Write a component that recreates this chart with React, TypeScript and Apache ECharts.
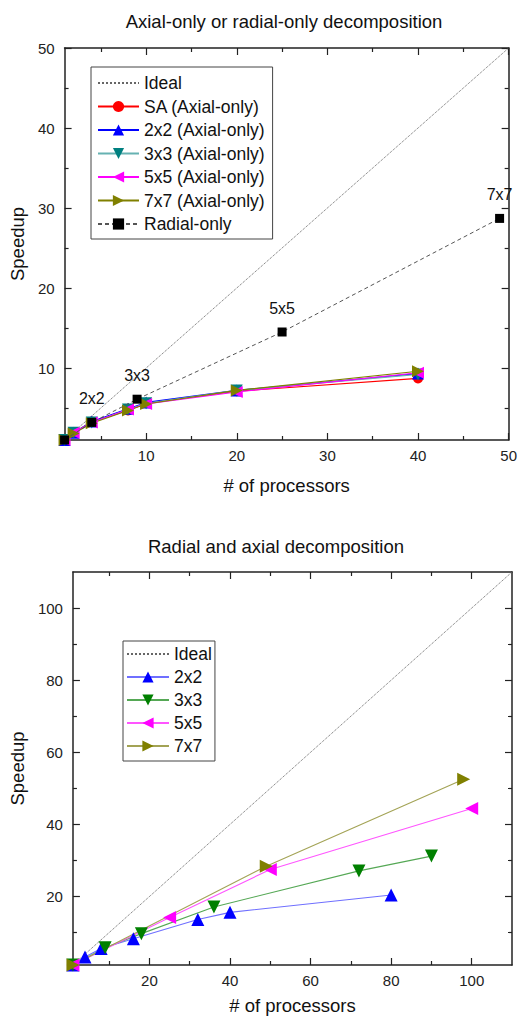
import React, { useEffect, useRef } from "react";
import * as echarts from "echarts";

const FONT = "'Liberation Sans', Arial, Helvetica, sans-serif";

// ---- texts ----
const topTitle = "Axial-only or radial-only decomposition";
const bottomTitle = "Radial and axial decomposition";
const xName = "# of processors";
const yName = "Speedup";

// ---- top chart data ----
const topIdealX = [1, 50];
const axialProcs = [1, 2, 4, 8, 10, 20, 40];
const saAxial = [1, 1.9, 3.3, 4.7, 5.6, 7.1, 8.7];
const axial2x2 = [1, 1.9, 3.3, 4.9, 5.7, 7.2, 9.3];
const axial3x3 = [1, 1.9, 3.2, 4.8, 5.6, 7.2, 9.2];
const axial5x5 = [1, 1.9, 3.2, 4.8, 5.5, 7.0, 9.4];
const axial7x7 = [1, 1.8, 3.1, 4.7, 5.5, 7.2, 9.6];
const radialProcs = [1, 4, 9, 25, 49];
const radialSpeedup = [1, 3.2, 6.1, 14.5, 28.7];
const radialLabels = ["", "2x2", "3x3", "5x5", "7x7"];

// ---- bottom chart data ----
const bottomIdealX = [1, 110];
const procs2x2 = [1, 4, 8, 16, 32, 40, 80];
const speed2x2 = [1, 3.2, 5.6, 8.3, 13.6, 15.6, 20.4];
const procs3x3 = [1, 9, 18, 36, 72, 90];
const speed3x3 = [1, 5.8, 9.7, 17.1, 27.1, 31.2];
const procs5x5 = [1, 25, 50, 100];
const speed5x5 = [1, 14.2, 27.5, 44.4];
const procs7x7 = [1, 49, 98];
const speed7x7 = [1, 28.4, 52.5];

// ---- ticks ----
const topMajor = [10, 20, 30, 40, 50];
const topMinor = [5, 15, 25, 35, 45];
const topLabels = [10, 20, 30, 40, 50];
const bottomMajor = [20, 40, 60, 80, 100];
const bottomMinor = [10, 30, 50, 70, 90];
const bottomLabels = [20, 40, 60, 80, 100];

const zip = (xs: number[], ys: number[]) => xs.map((x, i) => [x, ys[i]]);

function makeAxes(
  dim: "x" | "y",
  gridIndex: number,
  min: number,
  max: number,
  major: number[],
  minor: number[],
  labels: number[],
  nameGap: number
) {
  const pos = dim === "x" ? ["bottom", "top"] : ["left", "right"];
  const lineStyle = { color: "#222", width: 1.5 };
  const tickStyle = { color: "#222", width: 1.2 };
  const base: any = {
    type: "value",
    gridIndex,
    min,
    max,
    splitLine: { show: false },
    axisLine: { show: false, onZero: false },
    axisLabel: { show: false },
    axisTick: { show: false },
  };
  return [
    {
      ...base,
      position: pos[0],
      name: dim === "x" ? xName : yName,
      nameLocation: "middle",
      nameGap,
      nameTextStyle: { fontSize: 18.5, color: "#111", fontFamily: FONT },
      axisLine: { show: true, onZero: false, lineStyle },
      axisTick: { show: true, inside: true, length: 7, customValues: major, lineStyle: tickStyle },
      axisLabel: {
        show: true,
        customValues: labels,
        margin: dim === "x" ? 8 : 10,
        fontSize: 15,
        color: "#222",
        fontFamily: FONT,
      },
    },
    {
      ...base,
      position: pos[1],
      axisLine: { show: true, onZero: false, lineStyle },
      axisTick: { show: true, inside: true, length: 7, customValues: major, lineStyle: tickStyle },
    },
    {
      ...base,
      position: pos[0],
      axisTick: { show: true, inside: true, length: 4, customValues: minor, lineStyle: tickStyle },
    },
    {
      ...base,
      position: pos[1],
      axisTick: { show: true, inside: true, length: 4, customValues: minor, lineStyle: tickStyle },
    },
  ];
}

function lineSeries(
  name: string,
  data: number[][],
  color: string,
  symbol: string,
  rotate: number,
  size: number,
  axisIndex: number,
  lineColor?: string
) {
  return {
    type: "line",
    name,
    data,
    xAxisIndex: axisIndex,
    yAxisIndex: axisIndex,
    symbol,
    symbolSize: size,
    symbolRotate: rotate,
    showAllSymbol: true,
    itemStyle: { color },
    lineStyle: { color: lineColor || color, width: 1.1 },
    emphasis: { disabled: true },
    z: 3,
  };
}

const idealLegendItem = { name: "Ideal", itemStyle: { opacity: 0 } };

export default function App() {
  const ref = useRef<HTMLDivElement>(null);

  useEffect(() => {
    if (!ref.current) return;
    const chart = echarts.init(ref.current, undefined, { renderer: "svg" });

    const option: any = {
      animation: false,
      textStyle: { fontFamily: FONT },
      graphic: [
        {
          type: "text",
          x: 284,
          y: 21,
          style: {
            text: topTitle,
            fontSize: 18.5,
            fontFamily: FONT,
            fill: "#111",
            align: "center",
            verticalAlign: "middle",
          },
        },
        {
          type: "text",
          x: 276,
          y: 546,
          style: {
            text: bottomTitle,
            fontSize: 18.5,
            fontFamily: FONT,
            fill: "#111",
            align: "center",
            verticalAlign: "middle",
          },
        },
      ],
      grid: [
        { left: 64, top: 48, width: 448, height: 392, containLabel: false },
        { left: 64, top: 572, width: 448, height: 393, containLabel: false },
      ],
      xAxis: [
        ...makeAxes("x", 0, 1, 50, topMajor, topMinor, topLabels, 36),
        ...makeAxes("x", 1, 1, 110, bottomMajor, bottomMinor, bottomLabels, 31),
      ],
      yAxis: [
        ...makeAxes("y", 0, 1, 50, topMajor, topMinor, topLabels, 35),
        ...makeAxes("y", 1, 1, 110, bottomMajor, bottomMinor, bottomLabels, 40),
      ],
      legend: [
        {
          orient: "vertical",
          left: 91,
          top: 67,
          data: [
            idealLegendItem,
            "SA (Axial-only)",
            "2x2 (Axial-only)",
            "3x3 (Axial-only)",
            "5x5 (Axial-only)",
            "7x7 (Axial-only)",
            "Radial-only",
          ],
          itemWidth: 41,
          itemHeight: 14,
          itemGap: 5.5,
          borderColor: "#444",
          borderWidth: 1,
          padding: [7, 8, 6, 6],
          selectedMode: false,
          textStyle: { fontSize: 17.5, color: "#111", fontFamily: FONT },
        },
        {
          orient: "vertical",
          left: 123,
          top: 641,
          data: [idealLegendItem, "2x2", "3x3", "5x5", "7x7"],
          itemWidth: 42,
          itemHeight: 14,
          itemGap: 5,
          borderColor: "#444",
          borderWidth: 1,
          padding: [4, 3, 6, 3],
          selectedMode: false,
          textStyle: { fontSize: 17.5, color: "#111", fontFamily: FONT },
        },
      ],
      series: [
        {
          type: "line",
          name: "Ideal",
          data: zip(topIdealX, topIdealX),
          xAxisIndex: 0,
          yAxisIndex: 0,
          symbol: "none",
          lineStyle: { color: "#666", width: 1, type: "dotted" },
          itemStyle: { color: "#666" },
          emphasis: { disabled: true },
          z: 2,
        },
        lineSeries("SA (Axial-only)", zip(axialProcs, saAxial), "#ff0000", "circle", 0, 10, 0),
        lineSeries("2x2 (Axial-only)", zip(axialProcs, axial2x2), "#0000ff", "triangle", 0, 12, 0),
        lineSeries("3x3 (Axial-only)", zip(axialProcs, axial3x3), "#008080", "triangle", 180, 12, 0, "#66b2b2"),
        lineSeries("5x5 (Axial-only)", zip(axialProcs, axial5x5), "#ff00ff", "triangle", 90, 12, 0),
        lineSeries("7x7 (Axial-only)", zip(axialProcs, axial7x7), "#808000", "triangle", -90, 12, 0),
        {
          type: "line",
          name: "Radial-only",
          data: radialProcs.map((x, i) => ({ value: [x, radialSpeedup[i]], name: radialLabels[i] })),
          xAxisIndex: 0,
          yAxisIndex: 0,
          symbol: "rect",
          symbolSize: 9,
          showAllSymbol: true,
          itemStyle: { color: "#000" },
          lineStyle: { color: "#555", width: 1, type: [4, 3] },
          label: {
            show: true,
            position: "top",
            distance: 11,
            formatter: "{b}",
            fontSize: 16,
            color: "#111",
            fontFamily: FONT,
          },
          emphasis: { disabled: true },
          z: 4,
        },
        {
          type: "line",
          name: "Ideal",
          data: zip(bottomIdealX, bottomIdealX),
          xAxisIndex: 4,
          yAxisIndex: 4,
          symbol: "none",
          lineStyle: { color: "#666", width: 1, type: "dotted" },
          itemStyle: { color: "#666" },
          emphasis: { disabled: true },
          z: 2,
        },
        lineSeries("2x2", zip(procs2x2, speed2x2), "#0000ff", "triangle", 0, 13, 4, "#6f6fff"),
        lineSeries("3x3", zip(procs3x3, speed3x3), "#008000", "triangle", 180, 13, 4, "#55a855"),
        lineSeries("5x5", zip(procs5x5, speed5x5), "#ff00ff", "triangle", 90, 13, 4, "#ff55ff"),
        lineSeries("7x7", zip(procs7x7, speed7x7), "#808000", "triangle", -90, 13, 4, "#a3a355"),
      ],
    };

    chart.setOption(option);
    return () => chart.dispose();
  }, []);

  return (
    <div
      ref={ref}
      style={{ position: "absolute", left: 0, top: 0, width: 520, height: 1019, background: "#fff" }}
    />
  );
}
